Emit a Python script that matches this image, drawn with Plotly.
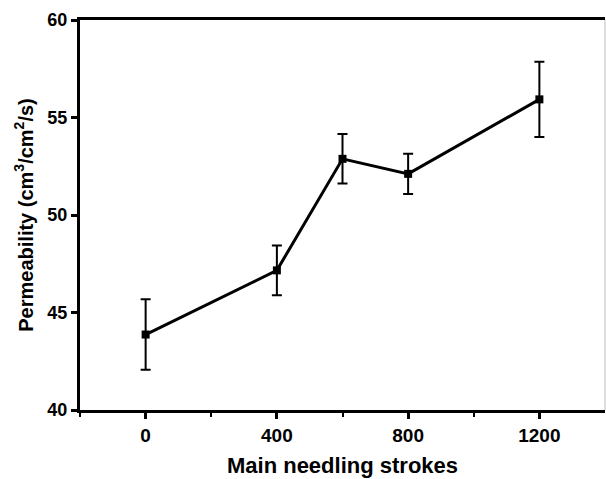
import plotly.graph_objects as go

# Permeability vs. main needling strokes
strokes = [0, 400, 600, 800, 1200]
permeability = [43.87, 47.16, 52.88, 52.11, 55.93]
perm_err = [1.81, 1.27, 1.27, 1.03, 1.93]

x_ticks = [0, 400, 800, 1200]
y_ticks = [40, 45, 50, 55, 60]

font_family = "Liberation Sans, Arial, sans-serif"

fig = go.Figure()
fig.add_trace(go.Scatter(
    x=strokes, y=permeability,
    mode="lines+markers",
    line=dict(color="black", width=3),
    marker=dict(symbol="square", size=8, color="black"),
    error_y=dict(type="data", array=perm_err, visible=True,
                 color="black", thickness=2, width=5),
    showlegend=False,
))

fig.update_layout(
    width=606, height=479,
    margin=dict(l=80, r=1, t=20, b=69),
    paper_bgcolor="white", plot_bgcolor="white",
    font=dict(family=font_family, color="black"),
    shapes=[dict(type="line", xref="paper", yref="paper",
                 x0=1, x1=1, y0=0, y1=1,
                 line=dict(color="#bdbdbd", width=1))],
)

fig.update_xaxes(
    range=[-200, 1400],
    tickvals=x_ticks, ticktext=[str(v) for v in x_ticks],
    tickfont=dict(size=19, family=font_family, weight="bold"),
    ticks="outside", ticklen=6, tickwidth=3, tickcolor="black",
    minor=dict(tickvals=[-200, 200, 600, 1000], ticks="outside",
               ticklen=4, tickwidth=2, tickcolor="black"),
    showline=True, linewidth=3, linecolor="black", mirror=True,
    showgrid=False, zeroline=False,
    title=dict(text="Main needling strokes",
               font=dict(size=22, family=font_family, weight="bold"),
               standoff=13),
)

fig.update_yaxes(
    range=[40, 60],
    tickvals=y_ticks, ticktext=[str(v) for v in y_ticks],
    tickfont=dict(size=18, family=font_family, weight="bold"),
    ticks="outside", ticklen=6, tickwidth=3, tickcolor="black",
    showline=True, linewidth=3, linecolor="black",
    showgrid=False, zeroline=False,
    title=dict(text="Permeability (cm<sup>3</sup>/cm<sup>2</sup>/s)",
               font=dict(size=20, family=font_family, weight="bold"),
               standoff=9),
)

fig.write_html("out.html")
